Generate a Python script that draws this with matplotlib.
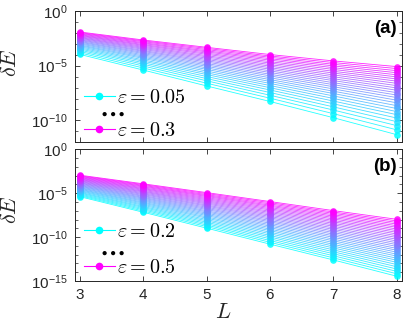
import matplotlib
matplotlib.use("Agg")
import matplotlib.pyplot as plt
from matplotlib.lines import Line2D
from matplotlib.ticker import LogLocator, FixedLocator, NullFormatter

# system sizes
L = [3, 4, 5, 6, 7, 8]

# panel (a): eps = 0.05 ... 0.30, log10(dE), one row per eps
eps_a = [0.05, 0.06, 0.07, 0.08, 0.09, 0.10, 0.11, 0.12, 0.13, 0.14, 0.15, 0.16, 0.17,
         0.18, 0.19, 0.20, 0.21, 0.22, 0.23, 0.24, 0.25, 0.26, 0.27, 0.28, 0.29, 0.30]
logE_a = [
    [-3.97, -5.40, -6.85, -8.27, -9.75, -11.30],
    [-3.83, -5.21, -6.60, -7.97, -9.38, -10.86],
    [-3.70, -5.03, -6.38, -7.70, -9.05, -10.47],
    [-3.58, -4.87, -6.18, -7.45, -8.76, -10.11],
    [-3.47, -4.73, -5.99, -7.22, -8.48, -9.78],
    [-3.37, -4.59, -5.81, -7.01, -8.23, -9.47],
    [-3.27, -4.47, -5.65, -6.81, -7.99, -9.19],
    [-3.18, -4.34, -5.49, -6.62, -7.76, -8.91],
    [-3.10, -4.23, -5.34, -6.44, -7.54, -8.65],
    [-3.01, -4.12, -5.20, -6.27, -7.33, -8.39],
    [-2.93, -4.01, -5.06, -6.10, -7.12, -8.15],
    [-2.85, -3.90, -4.93, -5.93, -6.92, -7.91],
    [-2.78, -3.80, -4.80, -5.78, -6.73, -7.68],
    [-2.70, -3.70, -4.67, -5.62, -6.55, -7.46],
    [-2.63, -3.61, -4.55, -5.47, -6.36, -7.24],
    [-2.56, -3.51, -4.43, -5.32, -6.19, -7.03],
    [-2.49, -3.42, -4.31, -5.18, -6.01, -6.82],
    [-2.43, -3.33, -4.19, -5.04, -5.84, -6.61],
    [-2.36, -3.24, -4.08, -4.90, -5.67, -6.41],
    [-2.29, -3.15, -3.96, -4.76, -5.51, -6.21],
    [-2.23, -3.07, -3.85, -4.63, -5.34, -6.02],
    [-2.17, -2.98, -3.74, -4.49, -5.18, -5.83],
    [-2.10, -2.90, -3.64, -4.36, -5.02, -5.64],
    [-2.04, -2.81, -3.53, -4.23, -4.87, -5.45],
    [-1.98, -2.73, -3.42, -4.11, -4.71, -5.26],
    [-1.92, -2.65, -3.32, -3.98, -4.56, -5.08],
]

# panel (b): eps = 0.20 ... 0.50
eps_b = [0.20, 0.21, 0.22, 0.23, 0.24, 0.25, 0.26, 0.27, 0.28, 0.29, 0.30, 0.31, 0.32,
         0.33, 0.34, 0.35, 0.36, 0.37, 0.38, 0.39, 0.40, 0.41, 0.42, 0.43, 0.44, 0.45,
         0.46, 0.47, 0.48, 0.49, 0.50]
logE_b = [
    [-5.40, -7.17, -8.98, -10.80, -12.60, -14.45],
    [-5.29, -7.03, -8.80, -10.59, -12.36, -14.17],
    [-5.19, -6.89, -8.63, -10.39, -12.12, -13.90],
    [-5.09, -6.76, -8.47, -10.19, -11.89, -13.63],
    [-4.99, -6.63, -8.31, -9.99, -11.67, -13.37],
    [-4.90, -6.51, -8.15, -9.81, -11.45, -13.12],
    [-4.80, -6.38, -8.00, -9.62, -11.23, -12.87],
    [-4.71, -6.26, -7.84, -9.44, -11.02, -12.63],
    [-4.62, -6.14, -7.70, -9.26, -10.82, -12.40],
    [-4.54, -6.03, -7.55, -9.09, -10.62, -12.16],
    [-4.45, -5.91, -7.41, -8.92, -10.42, -11.94],
    [-4.37, -5.80, -7.27, -8.75, -10.23, -11.71],
    [-4.28, -5.69, -7.13, -8.59, -10.03, -11.49],
    [-4.20, -5.58, -7.00, -8.42, -9.85, -11.28],
    [-4.12, -5.48, -6.86, -8.26, -9.66, -11.06],
    [-4.04, -5.37, -6.73, -8.11, -9.48, -10.85],
    [-3.96, -5.27, -6.60, -7.95, -9.30, -10.64],
    [-3.88, -5.16, -6.47, -7.80, -9.12, -10.44],
    [-3.81, -5.06, -6.35, -7.65, -8.95, -10.24],
    [-3.73, -4.96, -6.22, -7.50, -8.77, -10.04],
    [-3.66, -4.86, -6.10, -7.35, -8.60, -9.84],
    [-3.58, -4.77, -5.98, -7.20, -8.43, -9.64],
    [-3.51, -4.67, -5.86, -7.06, -8.26, -9.45],
    [-3.44, -4.57, -5.74, -6.91, -8.10, -9.26],
    [-3.37, -4.48, -5.62, -6.77, -7.93, -9.07],
    [-3.30, -4.39, -5.50, -6.63, -7.77, -8.88],
    [-3.23, -4.29, -5.38, -6.49, -7.61, -8.70],
    [-3.16, -4.20, -5.27, -6.36, -7.45, -8.51],
    [-3.09, -4.11, -5.16, -6.22, -7.29, -8.33],
    [-3.02, -4.02, -5.04, -6.08, -7.14, -8.15],
    [-2.95, -3.93, -4.93, -5.95, -6.98, -7.97],
]

plt.rcParams['font.family'] = ['Liberation Sans', 'DejaVu Sans']
plt.rcParams['mathtext.fontset'] = 'custom'
plt.rcParams['mathtext.rm'] = 'Liberation Sans'
plt.rcParams['mathtext.it'] = 'Liberation Sans:italic'
plt.rcParams['mathtext.bf'] = 'Liberation Sans:bold'

frame = '#262626'
cmap = plt.get_cmap('cool')

fig = plt.figure(figsize=(4.08, 3.26), dpi=100)
ax_a = fig.add_axes([0.1838, 0.5635, 0.8007, 0.4028])
ax_b = fig.add_axes([0.1838, 0.138, 0.8007, 0.404])


def draw_panel(ax, eps, logE, ymin, majors, tag, lab_first, lab_last, ylab_y,
               leg_y, leg_sp, dots_y):
    n = len(eps)
    for i in range(n):
        c = cmap(i / (n - 1))
        vals = [10.0 ** v for v in logE[i]]
        ax.plot(L, vals, '-', color=c, lw=0.6, alpha=0.85,
                marker='o', ms=4.8, mfc=c, mec=c, mew=0)
    ax.set_yscale('log')
    ax.set_xlim(2.92, 8.08)
    ax.set_ylim(10.0 ** ymin, 1)
    ax.set_xticks(L)
    ax.yaxis.set_major_locator(FixedLocator([10.0 ** m for m in majors]))
    ax.yaxis.set_minor_locator(LogLocator(base=10, subs=(1.0,), numticks=40))
    ax.yaxis.set_minor_formatter(NullFormatter())
    ax.tick_params(which='both', direction='in', top=True, right=True,
                   colors=frame, labelsize=11)
    ax.tick_params(which='major', length=3.5, width=0.6, pad=5)
    ax.tick_params(which='minor', length=2, width=0.5)
    for s in ax.spines.values():
        s.set_color(frame)
        s.set_linewidth(0.7)
    ax.set_ylabel(r'$\delta E$', fontsize=16, math_fontfamily='cm', color=frame)
    ax.yaxis.set_label_coords(-0.165, ylab_y)
    ax.text(0.986, 0.935, tag, transform=ax.transAxes, ha='right', va='top',
            fontsize=13.5, fontweight='bold', color='black')
    leg_handles = [
        Line2D([], [], color=cmap(0.0), lw=0.8, marker='o', ms=5.5, mec='none'),
        Line2D([], [], color=cmap(1.0), lw=0.8, marker='o', ms=5.5, mec='none'),
    ]
    ax.legend(leg_handles, [lab_first, lab_last], loc='lower left',
              bbox_to_anchor=(-0.01, leg_y), frameon=False,
              handlelength=1.55, handletextpad=0.12, labelspacing=leg_sp,
              borderaxespad=0.2, prop={'size': 14.5, 'math_fontfamily': 'cm'})
    # vertical "..." between the two legend rows
    ax.text(0.113, dots_y, r'$\mathbf{\cdots}$', transform=ax.transAxes,
            ha='center', va='center', fontsize=18, fontweight='bold')


draw_panel(ax_a, eps_a, logE_a, -12, [0, -5, -10], '(a)',
           r'$\varepsilon=0.05$', r'$\varepsilon=0.3$', 0.61, -0.075, 0.68, 0.225)
draw_panel(ax_b, eps_b, logE_b, -15, [0, -5, -10, -15], '(b)',
           r'$\varepsilon=0.2$', r'$\varepsilon=0.5$', 0.54, -0.06, 0.85, 0.225)

ax_a.tick_params(labelbottom=False)

ax_b.set_xlabel(r'$L$', fontsize=16, math_fontfamily='cm', color=frame)
ax_b.xaxis.set_label_coords(0.453, -0.16)

fig.savefig('out.png', dpi=100)
